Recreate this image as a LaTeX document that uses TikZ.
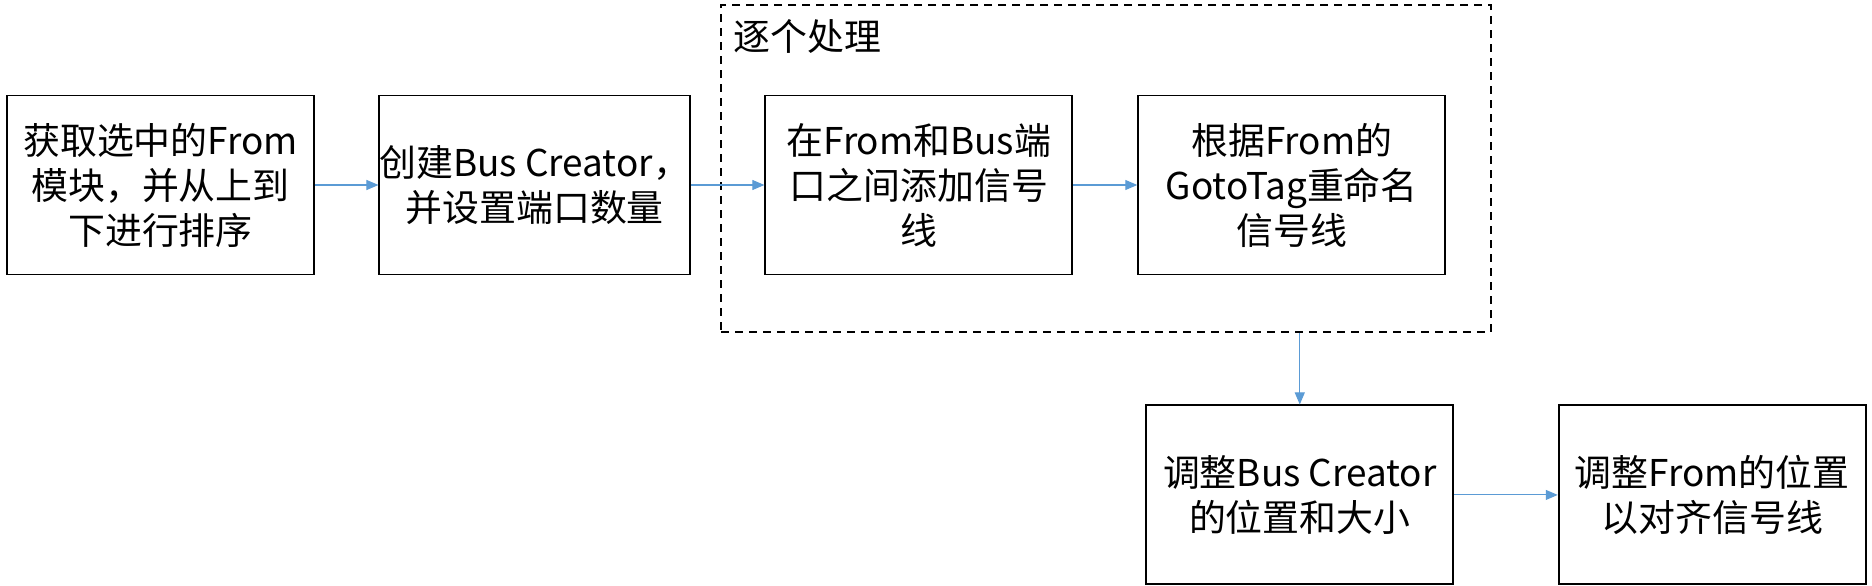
\documentclass[tikz,border=0pt]{standalone}
\usepackage{fontspec}
\setmainfont{Noto Sans CJK SC}
\usetikzlibrary{
	arrows.meta,
	positioning,
	calc,
	fit
}
\definecolor{linkblue}{HTML}{5B9BD5}

\begin{document}
\begin{tikzpicture}[
		box/.style={draw, line width=1.1pt, align=center, minimum width=6.14cm, minimum height=3.58cm, inner sep=0pt, font=\fontsize{21}{25.6}\selectfont},
		frame/.style={draw, line width=1.1pt, dash pattern=on 0.16cm off 0.12cm, inner sep=0pt},
		label/.style={inner sep=0pt, font=\fontsize{21}{25.6}\selectfont},
		arrow/.style={-{Triangle[length=0.24cm,width=0.2cm]}, line width=0.6pt, linkblue}
		]
		\useasboundingbox (0,0) rectangle (37.44,-11.72);
		
		% Nodes
		\node[box] (fetch) at (3.21,-3.70) {
			获取选中的From\\
			模块，并从上到\\
			下进行排序
		};
		
		\node[box, right=1.27cm of fetch] (create) {
			创建Bus Creator，\\
			并设置端口数量
		};
		
		\node[box, right=1.47cm of create] (connect) {
			在From和Bus端\\
			口之间添加信号\\
			线
		};
		
		\node[box, right=1.28cm of connect] (rename) {
			根据From的\\
			GotoTag重命名\\
			信号线
		};
		
		\coordinate (loopnw) at ($(connect.north west)+(-0.86,1.79)$);
		\coordinate (loopse) at ($(rename.south east)+(0.9,-1.13)$);
		\node[frame, fit=(loopnw)(loopse)] (loop) {};
		\node[label, anchor=west] (looptitle) at ($(loop.north west)+(0.26,-0.64)$) {逐个处理};
		
		\node[box, below=2.58cm of rename, xshift=0.16cm] (resize) {
			调整Bus Creator\\
			的位置和大小
		};
		
		\node[box, right=2.07cm of resize] (align) {
			调整From的位置\\
			以对齐信号线
		};
		
		% Arrows
		\draw[arrow] (fetch) -- (create);
		\draw[arrow] (create) -- (connect);
		\draw[arrow] (connect) -- (rename);
		\draw[arrow] (resize.north |- loop.south) -- (resize);
		\draw[arrow] (resize) -- (align);
		
	\end{tikzpicture}
\end{document}
